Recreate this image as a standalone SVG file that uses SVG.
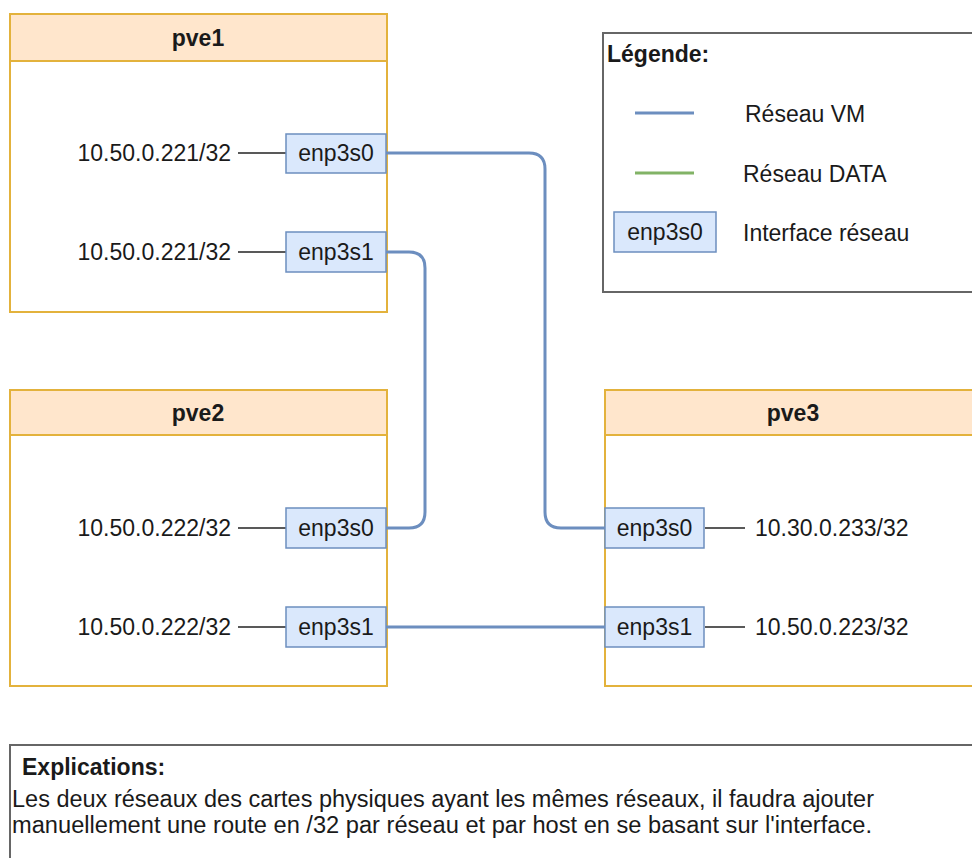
<svg xmlns="http://www.w3.org/2000/svg" width="972" height="858" viewBox="0 0 972 858">
<style>
text{font-family:"Liberation Sans",Arial,sans-serif;font-size:23px;fill:#1a1a1a}
.b{font-weight:bold}
.host{fill:#ffffff;stroke:#e3b23c;stroke-width:2}
.head{fill:#ffe6cc;stroke:#e3b23c;stroke-width:2}
.if{fill:#dae8fc;stroke:#6c8ebf;stroke-width:1.5}
.net{fill:none;stroke:#6c8ebf;stroke-width:3}
.stub{stroke:#222;stroke-width:1.5}
.box{fill:#ffffff;stroke:#666666;stroke-width:2}
</style>
<rect width="972" height="858" fill="#ffffff"/>

<g id="pve1">
<rect class="host" x="10" y="14" width="377" height="298"/>
<rect class="head" x="10" y="14" width="377" height="47"/>
<text class="b" x="198" y="46" text-anchor="middle">pve1</text>
<line class="stub" x1="238" y1="153" x2="286" y2="153"/>
<text x="231" y="161" text-anchor="end">10.50.0.221/32</text>
<line class="stub" x1="238" y1="252" x2="286" y2="252"/>
<text x="231" y="260" text-anchor="end">10.50.0.221/32</text>
</g>
<g id="pve1-enp3s0"><rect class="if" x="286" y="134" width="100" height="39"/><text x="336" y="161" text-anchor="middle">enp3s0</text></g>
<g id="pve1-enp3s1"><rect class="if" x="286" y="232" width="100" height="40"/><text x="336" y="260" text-anchor="middle">enp3s1</text></g>

<g id="pve2">
<rect class="host" x="10" y="390" width="377" height="296"/>
<rect class="head" x="10" y="390" width="377" height="45"/>
<text class="b" x="198" y="421" text-anchor="middle">pve2</text>
<line class="stub" x1="238" y1="528" x2="286" y2="528"/>
<text x="231" y="536" text-anchor="end">10.50.0.222/32</text>
<line class="stub" x1="238" y1="627" x2="286" y2="627"/>
<text x="231" y="635" text-anchor="end">10.50.0.222/32</text>
</g>
<g id="pve2-enp3s0"><rect class="if" x="286" y="508" width="100" height="40"/><text x="336" y="536" text-anchor="middle">enp3s0</text></g>
<g id="pve2-enp3s1"><rect class="if" x="286" y="607" width="100" height="40"/><text x="336" y="635" text-anchor="middle">enp3s1</text></g>

<g id="pve3">
<rect class="host" x="605" y="390" width="377" height="296"/>
<rect class="head" x="605" y="390" width="377" height="45"/>
<text class="b" x="793" y="421" text-anchor="middle">pve3</text>
<line class="stub" x1="705" y1="528" x2="745" y2="528"/>
<text x="755" y="536">10.30.0.233/32</text>
<line class="stub" x1="705" y1="627" x2="745" y2="627"/>
<text x="755" y="635">10.50.0.223/32</text>
</g>
<g id="pve3-enp3s0"><rect class="if" x="605" y="508" width="99" height="40"/><text x="654.5" y="536" text-anchor="middle">enp3s0</text></g>
<g id="pve3-enp3s1"><rect class="if" x="605" y="607" width="99" height="40"/><text x="654.5" y="635" text-anchor="middle">enp3s1</text></g>

<g id="connectors">
<path class="net" d="M386,153 H529 Q545,153 545,169 V512 Q545,528 561,528 H605"/>
<path class="net" d="M386,252 H409 Q425,252 425,268 V512 Q425,528 409,528 H386"/>
<path class="net" d="M386,627 H605"/>
</g>

<g id="legend">
<rect class="box" x="603" y="33" width="380" height="259"/>
<text class="b" x="607" y="62">Légende:</text>
<line x1="635" y1="113" x2="694" y2="113" stroke="#6c8ebf" stroke-width="3"/>
<text x="745" y="122">Réseau VM</text>
<line x1="635" y1="173" x2="694" y2="173" stroke="#82b366" stroke-width="3"/>
<text x="743" y="182">Réseau DATA</text>
<rect class="if" x="614" y="212" width="102" height="40"/>
<text x="665" y="240" text-anchor="middle">enp3s0</text>
<text x="743" y="241">Interface réseau</text>
</g>

<g id="explications">
<rect class="box" x="10" y="745" width="980" height="130"/>
<text class="b" x="22" y="775">Explications:</text>
<text x="12" y="807" textLength="862" lengthAdjust="spacingAndGlyphs">Les deux réseaux des cartes physiques ayant les mêmes réseaux, il faudra ajouter</text>
<text x="12" y="833" textLength="860" lengthAdjust="spacingAndGlyphs">manuellement une route en /32 par réseau et par host en se basant sur l'interface.</text>
</g>
</svg>
